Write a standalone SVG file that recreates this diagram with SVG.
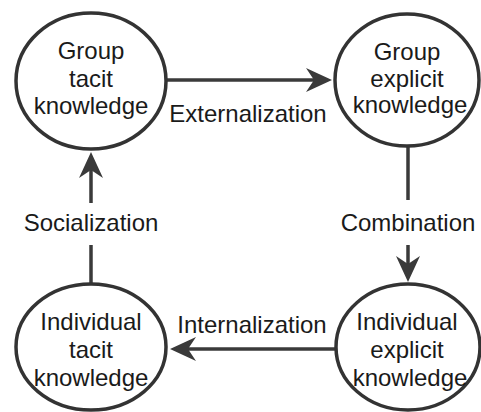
<svg xmlns="http://www.w3.org/2000/svg" width="481" height="412" viewBox="0 0 481 412">
  <style>
    .node { fill: #fff; stroke: #333; stroke-width: 3.5; }
    .label { font-family: "Liberation Sans", Arial, sans-serif; font-size: 24px; fill: #1a1a1a; text-anchor: middle; }
    .edge { fill: none; stroke: #3a3a3a; stroke-width: 3.5; }
  </style>
  <defs>
    <marker id="arrow" markerUnits="userSpaceOnUse" viewBox="0 0 26 24" refX="16" refY="12" markerWidth="26" markerHeight="24" orient="auto">
      <path d="M0,0 L26,12 L0,24 L8,12 Z" fill="#3a3a3a"/>
    </marker>
  </defs>
  <rect width="481" height="412" fill="#fff"/>

  <g id="connectors">
    <!-- Externalization: group tacit -> group explicit -->
    <path class="edge" d="M167,80 H322" marker-end="url(#arrow)"/>
    <!-- Combination: group explicit -> individual explicit -->
    <path class="edge" d="M408,146 V200"/>
    <path class="edge" d="M408,245 V272" marker-end="url(#arrow)"/>
    <!-- Internalization: individual explicit -> individual tacit -->
    <path class="edge" d="M336,349 H180" marker-end="url(#arrow)"/>
    <!-- Socialization: individual tacit -> group tacit -->
    <path class="edge" d="M91,283 V245"/>
    <path class="edge" d="M91,203 V162" marker-end="url(#arrow)"/>
    <text class="label" x="248" y="122">Externalization</text>
    <text class="label" x="408" y="231">Combination</text>
    <text class="label" x="252" y="333">Internalization</text>
    <text class="label" x="91" y="231">Socialization</text>
  </g>

  <g id="group-tacit">
    <ellipse class="node" cx="91" cy="81" rx="75" ry="68"/>
    <text class="label" x="91" y="59">Group</text>
    <text class="label" x="91" y="87">tacit</text>
    <text class="label" x="91" y="114">knowledge</text>
  </g>

  <g id="group-explicit">
    <ellipse class="node" cx="407" cy="80" rx="72" ry="66"/>
    <text class="label" x="407" y="60">Group</text>
    <text class="label" x="407" y="87">explicit</text>
    <text class="label" x="410" y="113">knowledge</text>
  </g>

  <g id="individual-tacit">
    <ellipse class="node" cx="91" cy="347" rx="75" ry="63"/>
    <text class="label" x="91" y="330">Individual</text>
    <text class="label" x="91" y="358">tacit</text>
    <text class="label" x="91" y="386">knowledge</text>
  </g>

  <g id="individual-explicit">
    <ellipse class="node" cx="408" cy="347" rx="72" ry="63"/>
    <text class="label" x="407" y="330">Individual</text>
    <text class="label" x="407" y="358">explicit</text>
    <text class="label" x="410" y="386">knowledge</text>
  </g>
</svg>
